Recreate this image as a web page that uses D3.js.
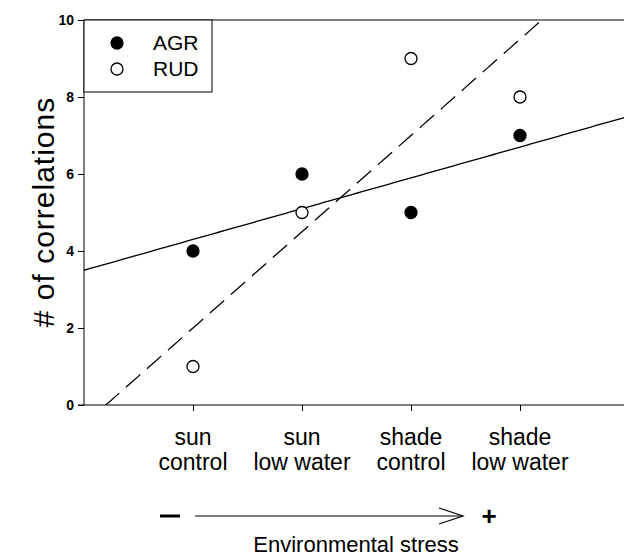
<!DOCTYPE html>
<html>
<head>
<meta charset="utf-8">
<script src="https://cdn.jsdelivr.net/npm/d3@7"></script>
<style>
  body { margin: 0; background: #fff; }
  text { font-family: Arial, "Liberation Sans", sans-serif; fill: #000; }
</style>
</head>
<body>
<svg id="chart" width="624" height="557"></svg>
<script>
// treatments along the stress gradient
var categories = [
    ['sun', 'control'],
    ['sun', 'low water'],
    ['shade', 'control'],
    ['shade', 'low water']
];
var xPos = [1, 2, 3, 4];
var agrValues = [4, 6, 5, 7];
var rudValues = [1, 5, 9, 8];
var yTicks = [0, 2, 4, 6, 8, 10];

var svg = d3.select('#chart');
var padL = 84, padR = 629, padT = 20, padB = 405;

var x = d3.scaleLinear().domain([0, 5]).range([padL, padR]);
var y = d3.scaleLinear().domain([0, 10]).range([padB, padT]);

// least squares fit for each group
function fit(xs, ys) {
    var mx = d3.mean(xs), my = d3.mean(ys);
    var num = d3.sum(xs, function(v, i) { return (v - mx) * (ys[i] - my); });
    var den = d3.sum(xs, function(v) { return (v - mx) * (v - mx); });
    var slope = num / den;
    return { slope: slope, icpt: my - slope * mx };
}

var plot = svg.append('g');
svg.append('clipPath').attr('id', 'plotclip')
    .append('rect').attr('x', padL).attr('y', padT)
    .attr('width', 624 - padL).attr('height', padB - padT);

function drawFit(f, dash) {
    var xs = d3.range(0, 5.01, 0.05);
    plot.append('path')
        .attr('clip-path', 'url(#plotclip)')
        .datum(xs)
        .attr('d', d3.line()
            .x(function(d) { return x(d); })
            .y(function(d) { return y(f.icpt + f.slope * d); }))
        .attr('fill', 'none').attr('stroke', '#000').attr('stroke-width', 1.3)
        .attr('stroke-dasharray', dash);
}
drawFit(fit(xPos, agrValues), null);
drawFit(fit(xPos, rudValues), '19,9');

// axes
var yAxis = svg.append('g').attr('transform', 'translate(' + padL + ',0)')
    .call(d3.axisLeft(y).tickValues(yTicks).tickSize(6).tickPadding(4).tickFormat(d3.format('d')))
    .attr('font-size', 14).attr('font-weight', 'bold')
    .attr('font-family', 'Arial, "Liberation Sans", sans-serif');
yAxis.select('.domain').remove();
yAxis.selectAll('line').attr('stroke', '#000');

svg.append('line').attr('x1', padL).attr('x2', padL).attr('y1', padT).attr('y2', padB)
    .attr('stroke', '#000').attr('stroke-width', 1);
svg.append('line').attr('x1', padL).attr('x2', 624).attr('y1', padT).attr('y2', padT)
    .attr('stroke', '#000').attr('stroke-width', 1);

var xAxis = svg.append('g').attr('transform', 'translate(0,' + padB + ')')
    .call(d3.axisBottom(x).tickValues(xPos).tickSize(6).tickFormat(''));
xAxis.select('.domain').remove();
xAxis.selectAll('line').attr('stroke', '#000');
svg.append('line').attr('x1', padL - 6).attr('x2', 624).attr('y1', padB).attr('y2', padB)
    .attr('stroke', '#000').attr('stroke-width', 1.2);

// category labels
var catG = svg.append('g');
categories.forEach(function(lines, i) {
    var t = catG.append('text').attr('text-anchor', 'middle')
        .attr('x', x(xPos[i])).style('font-size', '23px');
    lines.forEach(function(s, j) {
        t.append('tspan').attr('x', x(xPos[i])).attr('y', 445 + j * 25).text(s);
    });
});

// points
function dots(vals, fill) {
    plot.selectAll(null).data(vals).enter().append('circle')
        .attr('cx', function(d, i) { return x(xPos[i]); })
        .attr('cy', function(d) { return y(d); })
        .attr('r', 6)
        .attr('fill', fill).attr('stroke', '#000').attr('stroke-width', 1.3);
}
dots(agrValues, '#000');
dots(rudValues, '#fff');

// legend
var leg = svg.append('g');
leg.append('rect').attr('x', padL).attr('y', padT).attr('width', 128).attr('height', 72)
    .attr('fill', '#fff').attr('stroke', '#000').attr('stroke-width', 1);
[['AGR', '#000'], ['RUD', '#fff']].forEach(function(item, i) {
    leg.append('circle').attr('cx', 117).attr('cy', 43 + i * 26).attr('r', 6)
        .attr('fill', item[1]).attr('stroke', '#000').attr('stroke-width', 1.3);
    leg.append('text').attr('x', 153).attr('y', 50 + i * 26)
        .style('font-size', '21px').text(item[0]);
});

// y title
svg.append('text').attr('transform', 'translate(54,212) rotate(-90)')
    .attr('text-anchor', 'middle').style('font-size', '30px')
    .style('letter-spacing', '1px').text('# of correlations');

// stress arrow
svg.append('line').attr('x1', 160).attr('x2', 180).attr('y1', 516).attr('y2', 516)
    .attr('stroke', '#000').attr('stroke-width', 3);
svg.append('line').attr('x1', 195).attr('x2', 463).attr('y1', 516).attr('y2', 516)
    .attr('stroke', '#000').attr('stroke-width', 1.2);
svg.append('path').attr('d', 'M439,508 L463,516 L439,524')
    .attr('fill', 'none').attr('stroke', '#000').attr('stroke-width', 1.2);
svg.append('text').attr('x', 489).attr('y', 525).attr('text-anchor', 'middle')
    .style('font-size', '26px').style('font-weight', 'bold').text('+');

svg.append('text').attr('x', 356).attr('y', 552).attr('text-anchor', 'middle')
    .style('font-size', '22px').text('Environmental stress');
</script>
</body>
</html>
